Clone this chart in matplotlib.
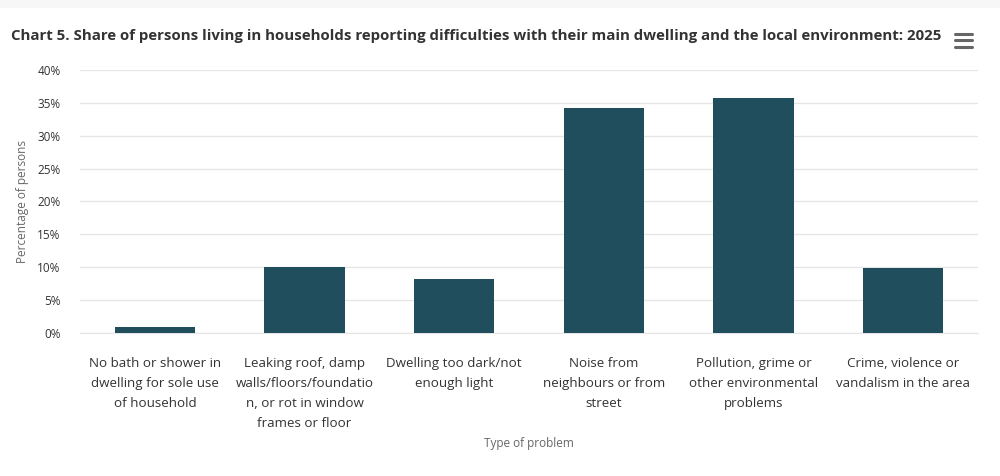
import numpy as np
import matplotlib
matplotlib.use("Agg")
import matplotlib.pyplot as plt
from matplotlib.lines import Line2D
from matplotlib.patches import Rectangle
from matplotlib.ticker import FuncFormatter

# data
categories = [
    "No bath or shower in\ndwelling for sole use\nof household",
    "Leaking roof, damp\nwalls/floors/foundatio\nn, or rot in window\nframes or floor",
    "Dwelling too dark/not\nenough light",
    "Noise from\nneighbours or from\nstreet",
    "Pollution, grime or\nother environmental\nproblems",
    "Crime, violence or\nvandalism in the area",
]
share_pct = [0.9, 10.1, 8.2, 34.2, 35.8, 9.9]
y_ticks = [0, 5, 10, 15, 20, 25, 30, 35, 40]

bar_color = "#214e5d"
plt.rcParams['font.family'] = ['Open Sans', 'DejaVu Sans']

fig = plt.figure(figsize=(10, 4.76), dpi=100)
ax = fig.add_axes([0.08, 0.3004, 0.898, 0.5526])

# light band at the very top
fig.patches.append(Rectangle((0, 0.983), 1, 0.017, transform=fig.transFigure,
                             facecolor="#f7f7f7", edgecolor="none"))

x = np.arange(len(categories))
ax.bar(x, share_pct, width=0.535, color=bar_color, zorder=3)

ax.set_xlim(-0.5, len(categories) - 0.5)
ax.set_ylim(0, 40)
ax.set_yticks(y_ticks)
ax.yaxis.set_major_formatter(FuncFormatter(lambda v, p: f"{v:.0f}%"))
ax.grid(axis="y", color="#e6e6e6", linewidth=1, zorder=0)
for s in ["top", "right", "left"]:
    ax.spines[s].set_visible(False)
ax.spines["bottom"].set_color("#e6e6e6")
ax.tick_params(axis="y", length=0, labelsize=8.5, labelcolor="#333333", pad=14)
ax.tick_params(axis="x", length=0, labelsize=9.6, labelcolor="#333333", pad=17)
ax.set_xticks(x)
ax.set_xticklabels(categories, linespacing=1.7)

ax.set_ylabel("Percentage of persons", fontsize=8.5, color="#666666", labelpad=6)
fig.text(0.529, 0.069, "Type of problem", ha="center", va="center",
         fontsize=8.5, color="#666666")

fig.text(0.011, 0.924, "Chart 5. Share of persons living in households reporting difficulties with their main dwelling and the local environment: 2025",
         ha="left", va="center", fontsize=10.8, fontweight="bold", color="#333333")

# menu icon
for yy in [0.928, 0.915, 0.902]:
    fig.lines.append(Line2D([0.955, 0.972], [yy, yy], transform=fig.transFigure,
                            color="#666666", linewidth=2.2, solid_capstyle="round"))

fig.savefig("out.png", dpi=100)
